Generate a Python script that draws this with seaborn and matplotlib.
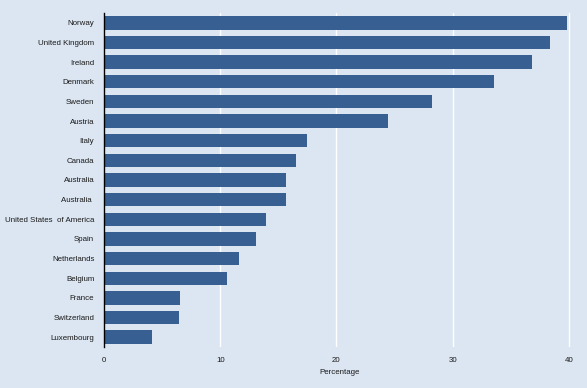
import matplotlib
matplotlib.use("Agg")
import matplotlib.pyplot as plt
import seaborn as sns
import pandas as pd

# Values
countries = ["Norway", "United Kingdom", "Ireland", "Denmark", "Sweden", "Austria",
             "Italy", "Canada", "Australia", "Australia ", "United States  of America",
             "Spain", "Netherlands", "Belgium", "France", "Switzerland", "Luxembourg"]
percentage = [39.8, 38.4, 36.8, 33.6, 28.2, 24.4, 17.5, 16.5, 15.7, 15.7, 13.9,
              13.1, 11.6, 10.6, 6.5, 6.45, 4.1]

df = pd.DataFrame({"country": countries, "pct": percentage})

bg = "#dce6f2"
bar_color = "#375f92"

sns.set_theme(style="darkgrid")
plt.rcParams["font.family"] = ["Liberation Sans", "DejaVu Sans"]

fig = plt.figure(figsize=(5.87, 3.88), dpi=100, facecolor=bg)
ax = fig.add_axes([0.1772, 0.1057, 0.8018, 0.8608])
ax.set_facecolor(bg)

sns.barplot(data=df, x="pct", y="country", color=bar_color, width=0.68,
            saturation=1, ax=ax, orient="h", edgecolor="none", linewidth=0)

ax.set_xlim(0, 40.5)
ax.set_ylim(16.5, -0.5)
ax.set_xticks([0, 10, 20, 30, 40])
ax.grid(axis="x", color="white", linewidth=1)
ax.grid(axis="y", visible=False)
ax.set_axisbelow(True)
for s in ["top", "right", "bottom"]:
    ax.spines[s].set_visible(False)
ax.spines["left"].set_visible(True)
ax.spines["left"].set_color("black")
ax.spines["left"].set_linewidth(1)
ax.tick_params(axis="both", length=0, labelsize=5.7, colors="#1a1a1a")
ax.tick_params(axis="y", pad=7)
ax.tick_params(axis="x", pad=7)
ax.set_ylabel("")
ax.set_xlabel("Percentage", fontsize=5.7, color="#1a1a1a", labelpad=4)

fig.savefig("out.png", dpi=100, facecolor=bg)
